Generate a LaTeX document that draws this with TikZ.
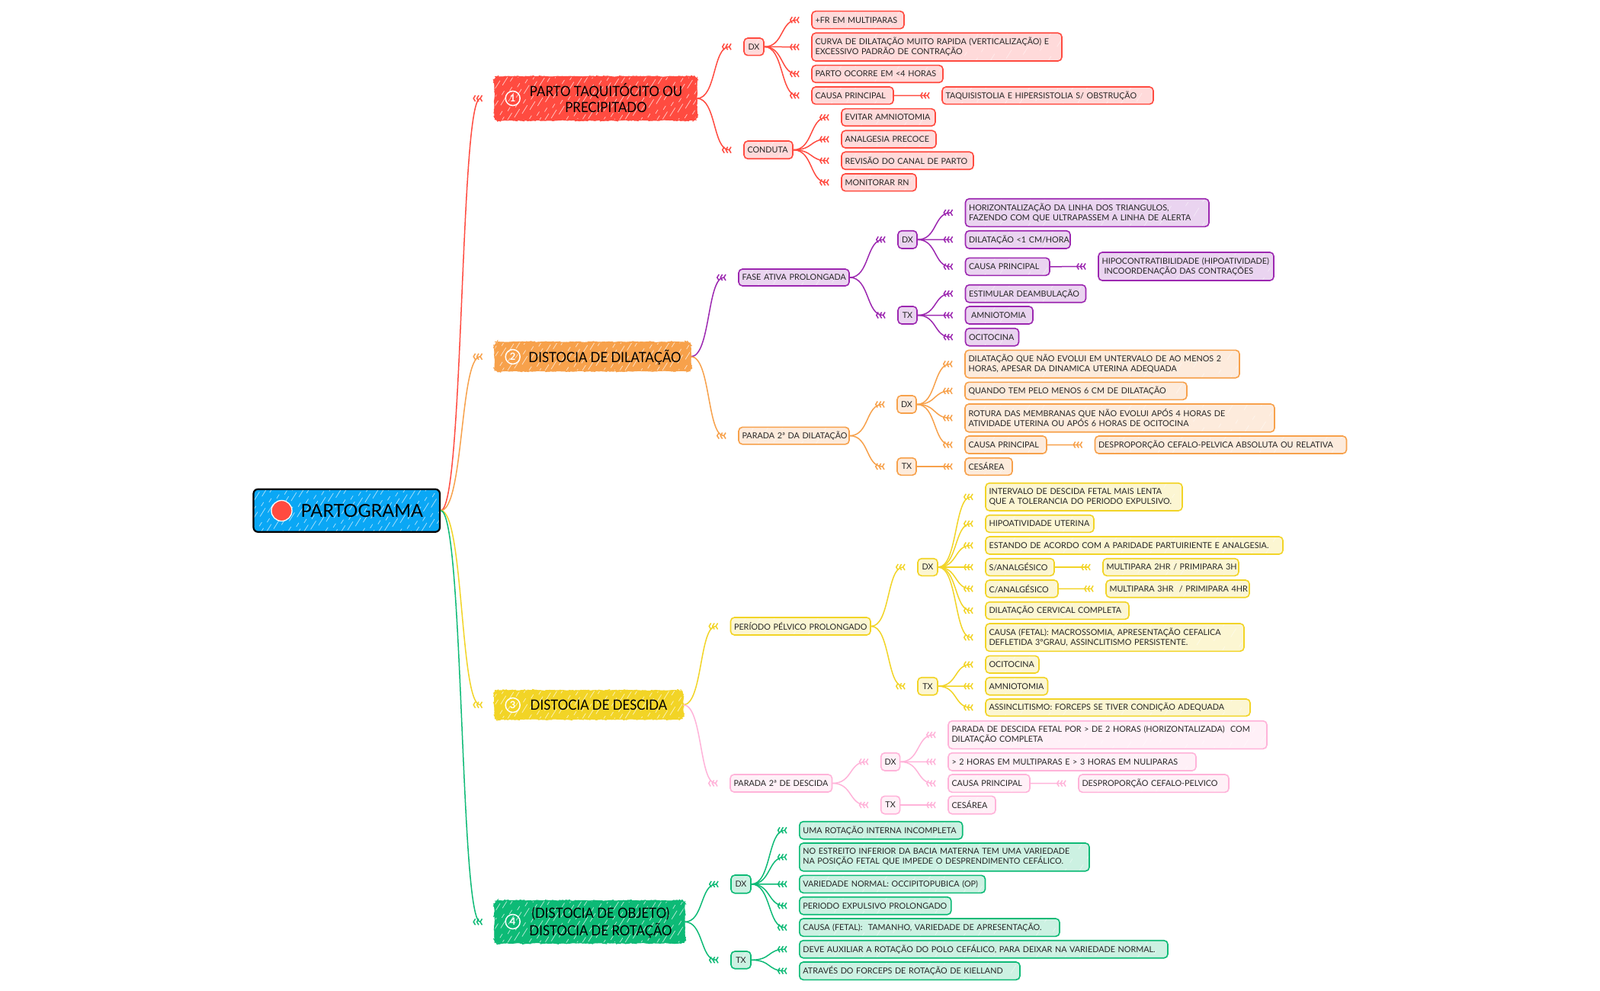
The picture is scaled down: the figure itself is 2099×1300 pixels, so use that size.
\documentclass[tikz,border=0pt]{standalone}
\usepackage{fontspec}
\setmainfont{Lato}
\newfontfamily\bigfont[FakeStretch=0.91]{Lato}
\usetikzlibrary{arrows.meta,calc,decorations.pathmorphing}
\definecolor{cred}{HTML}{FF4B40}\definecolor{credf}{HTML}{FFDADA}
\definecolor{cora}{HTML}{F7A14B}\definecolor{coraf}{HTML}{FDEBDC}
\definecolor{cyel}{HTML}{F2D426}\definecolor{cyelf}{HTML}{FCF6D2}
\definecolor{cgrn}{HTML}{0DBA76}\definecolor{cgrnf}{HTML}{CCF1E2}
\definecolor{cpur}{HTML}{9C27B0}\definecolor{cpurf}{HTML}{EAD4F0}
\definecolor{cpnk}{HTML}{FFB3D9}\definecolor{cpnkf}{HTML}{FFF0F7}
\definecolor{cblu}{HTML}{0AA7F5}
\tikzset{
 conn/.style={line width=1.5pt,shorten >=15pt,-{Straight Barb[reversed,length=2.4pt,width=8pt,sep=.4pt,line width=1.5pt]Straight Barb[reversed,length=2.4pt,width=8pt,sep=.4pt,line width=1.5pt]Straight Barb[reversed,length=2.4pt,width=8pt,sep=.4pt,line width=1.5pt]}},
 hatch/.style n args={2}{path picture={
   \pgfmathtruncatemacro\nh{(\bw+50)/#1}
   \foreach \k in {0,...,\nh}{
     \pgfmathsetmacro\ph{mod(\k*37,43)}
     \pgfmathsetmacro\sx{\k*#1-32}
     \draw[white,opacity=#2,line width=.7pt,dash pattern=on 13pt off 9pt on 6pt off 15pt,dash phase=\ph pt]
       ([xshift=\sx pt]path picture bounding box.south west) -- ++(40,-64);
   }}},
 small/.style={rectangle,rounded corners=5pt,line width=1.6pt,inner xsep=4.5pt,inner ysep=0pt,align=left,font=\fontsize{10.8}{13}\selectfont,text=black!85,hatch={19}{.5}},
 tiny/.style={small,align=center,inner xsep=0pt},
 rbox/.style={small,draw=cred,fill=credf},
 pbox/.style={small,draw=cpur,fill=cpurf},
 obox/.style={small,draw=cora,fill=coraf},
 ybox/.style={small,draw=cyel,fill=cyelf},
 kbox/.style={small,draw=cpnk,fill=cpnkf},
 gbox/.style={small,draw=cgrn,fill=cgrnf},
 big/.style={rectangle,rounded corners=6pt,inner sep=0pt,align=center,font=\bigfont\fontsize{18.5}{21}\selectfont,text=black,hatch={7}{.75},
   decorate,decoration={random steps,segment length=3pt,amplitude=.5pt},line width=.8pt},
 numc/.style={circle,draw=white,line width=1.5pt,text=white,minimum size=19pt,inner sep=0pt,font=\fontsize{13}{13}\selectfont\bfseries},
}
\newcommand\setg[4]{\pgfmathsetmacro\cx{(#1+#3)/2}\pgfmathsetmacro\cy{(#2+#4)/2}\pgfmathsetmacro\bw{#3-#1}\pgfmathsetmacro\bh{#4-#2}\pgfmathsetmacro\tw{\bw-9}}
\newcommand\bx[7]{\setg{#3}{#4}{#5}{#6}\node[#2,minimum width=\bw pt,minimum height=\bh pt,text width=\tw pt] (#1) at (\cx,\cy) {\mbox{#7}};}
\newcommand\bxx[8]{\setg{#3}{#4}{#5}{#6}\node[#2,minimum width=\bw pt,minimum height=\bh pt,text width=\tw pt] (#1) at (\cx,\cy) {\mbox{#7}\\\mbox{#8}};}
\newcommand\tx[7]{\setg{#3}{#4}{#5}{#6}\node[#2,tiny,minimum width=\bw pt,minimum height=\bh pt] (#1) at (\cx,\cy) {#7};}
\newcommand\mainbx[8]{\setg{#3}{#4}{#5}{#6}\node[big,draw=#2,fill=#2,minimum width=\bw pt,minimum height=\bh pt] (#1) at (\cx,\cy) {\hspace*{#7pt}\raisebox{0pt}[\dimexpr\height+5pt\relax][\depth]{\begin{tabular}{@{}c@{}}#8\end{tabular}}};}
\newcommand\conn[3]{\draw[conn,#1] (#2.east) .. controls ($(#2.east)!.55!([xshift=-15pt]#3.west |- #2.east)$) and ($([xshift=-15pt]#3.west)!.55!(#2.east |- #3.west)$) .. (#3.west);}
\begin{document}
\begin{tikzpicture}[x=1pt,y=-1pt]
\path[fill=white,use as bounding box] (0,0) rectangle (2099,1300);
% root
\setg{332.5}{641.7}{577}{697.8}
\node[rectangle,rounded corners=6pt,draw=black,fill=cblu,line width=2.2pt,inner sep=0pt,minimum width=\bw pt,minimum height=\bh pt,font=\fontsize{23.5}{25}\selectfont,hatch={7}{.7}] (root) at (\cx,\cy) {\hspace*{40pt}PARTOGRAMA};
\node[circle,fill=cred,draw=white,line width=1.3pt,minimum size=27pt,inner sep=0pt] (rootdot) at (369.5,670) {};
% main
\mainbx{m1}{cred}{649}{100.7}{914}{157.5}{27}{PARTO TAQUITÓCITO OU\\PRECIPITADO}
\mainbx{m2}{cora}{649}{449}{906}{486.6}{32}{DISTOCIA DE DILATAÇÃO}
\mainbx{m3}{cyel}{649}{906}{896}{943.3}{26}{DISTOCIA DE DESCIDA}
\mainbx{m4}{cgrn}{649}{1181.7}{898}{1237}{29}{(DISTOCIA DE OBJETO)\\DISTOCIA DE ROTAÇÃO}
\node[numc] (n1) at (672.7,129) {1};
\node[numc] (n2) at (672.7,468) {2};
\node[numc] (n3) at (672.7,925) {3};
\node[numc] (n4) at (672.7,1209) {4};
% red
\tx{rdx}{rbox}{976}{50}{1002}{72.7}{DX}
\bx{rcon}{rbox}{976}{185}{1040}{208.3}{CONDUTA}
\bx{r1}{rbox}{1065}{14.7}{1186}{37.7}{+FR EM MULTIPARAS}
\bxx{r2}{rbox}{1065}{43.3}{1393}{80}{CURVA DE DILATAÇÃO MUITO RAPIDA (VERTICALIZAÇÃO) E}{EXCESSIVO PADRÃO DE CONTRAÇÃO}
\bx{r3}{rbox}{1065}{85.7}{1237}{108.3}{PARTO OCORRE EM <4 HORAS}
\bx{r4}{rbox}{1065}{114}{1172}{136.7}{CAUSA PRINCIPAL}
\bx{r5}{rbox}{1236}{114}{1513}{136.7}{TAQUISISTOLIA E HIPERSISTOLIA S/ OBSTRUÇÃO}
\bx{r6}{rbox}{1104}{142.7}{1227}{165.3}{EVITAR AMNIOTOMIA}
\bx{r7}{rbox}{1104}{171.3}{1228}{194}{ANALGESIA PRECOCE}
\bx{r8}{rbox}{1104}{199.3}{1277}{222.3}{REVISÃO DO CANAL DE PARTO}
\bx{r9}{rbox}{1104}{228}{1202}{250.7}{MONITORAR RN}
% purple
\bx{pf}{pbox}{969}{353}{1114}{375}{FASE ATIVA PROLONGADA}
\tx{pdx}{pbox}{1178}{302.7}{1203}{326}{DX}
\tx{ptx}{pbox}{1178}{402}{1203}{425}{TX}
\bxx{p1}{pbox}{1266.5}{260.7}{1586}{297.3}{HORIZONTALIZAÇÃO DA LINHA DOS TRIANGULOS,}{FAZENDO COM QUE ULTRAPASSEM A LINHA DE ALERTA}
\bx{p2}{pbox}{1266.5}{302.7}{1404}{326}{DILATAÇÃO <1 CM/HORA}
\bx{p3}{pbox}{1266.5}{338.3}{1377}{361.3}{CAUSA PRINCIPAL}
\bxx{p4}{pbox}{1441}{331}{1671}{368}{HIPOCONTRATIBILIDADE (HIPOATIVIDADE)}{\hspace*{3pt}INCOORDENAÇÃO DAS CONTRAÇÕES}
\bx{p5}{pbox}{1266.5}{373.7}{1424.5}{396.7}{ESTIMULAR DEAMBULAÇÃO}
\bx{p6}{pbox}{1266.5}{402}{1355}{425}{\hspace*{3pt}AMNIOTOMIA}
\bx{p7}{pbox}{1266.5}{430.7}{1336.5}{453.7}{OCITOCINA}
% orange
\bx{of}{obox}{969}{560.4}{1114}{582.8}{PARADA 2ª DA DILATAÇÃO}
\tx{odx}{obox}{1177}{519}{1202}{542}{DX}
\tx{otx}{obox}{1177}{600.7}{1202}{623.3}{TX}
\bxx{o1}{obox}{1266}{459.3}{1626}{495.7}{DILATAÇÃO QUE NÃO EVOLUI EM UNTERVALO DE AO MENOS 2}{HORAS, APESAR DA DINAMICA UTERINA ADEQUADA}
\bx{o2}{obox}{1266}{501.3}{1557}{524.3}{QUANDO TEM PELO MENOS 6 CM DE DILATAÇÃO}
\bxx{o3}{obox}{1266}{530}{1672}{566.7}{ROTURA DAS MEMBRANAS QUE NÃO EVOLUI APÓS 4 HORAS DE}{ATIVIDADE UTERINA OU APÓS 6 HORAS DE OCITOCINA}
\bx{o4}{obox}{1266}{572}{1373}{595}{CAUSA PRINCIPAL}
\bx{o5}{obox}{1436.5}{572}{1766.5}{595}{DESPROPORÇÃO CEFALO-PELVICA ABSOLUTA OU RELATIVA}
\bx{o6}{obox}{1266}{600.7}{1328}{623.3}{CESÁREA}
% yellow
\bx{yf}{ybox}{958.5}{810}{1142}{833}{PERÍODO PÉLVICO PROLONGADO}
\tx{ydx}{ybox}{1204}{732.7}{1230}{755.3}{DX}
\tx{ytx}{ybox}{1204}{888.7}{1230}{911.7}{TX}
\bxx{y1}{ybox}{1293}{633.7}{1551}{670}{INTERVALO DE DESCIDA FETAL MAIS LENTA}{QUE A TOLERANCIA DO PERIODO EXPULSIVO.}
\bx{y2}{ybox}{1293}{675.7}{1435}{698.3}{HIPOATIVIDADE UTERINA}
\bx{y3}{ybox}{1293}{704}{1683}{727}{ESTANDO DE ACORDO COM A PARIDADE PARTUIRIENTE E ANALGESIA.}
\bx{y4}{ybox}{1293}{732.7}{1383}{755.3}{S/ANALGÉSICO}
\bx{y5}{ybox}{1447}{732.7}{1625}{755.3}{MULTIPARA 2HR / PRIMIPARA 3H}
\bx{y6}{ybox}{1293}{761}{1388}{783.7}{C/ANALGÉSICO}
\bx{y7}{ybox}{1451}{761}{1639}{783.7}{MULTIPARA 3HR \ / PRIMIPARA 4HR}
\bx{y8}{ybox}{1293}{789.7}{1481}{812.3}{DILATAÇÃO CERVICAL COMPLETA}
\bxx{y9}{ybox}{1293}{818}{1632}{854.3}{CAUSA (FETAL): MACROSSOMIA, APRESENTAÇÃO CEFALICA}{DEFLETIDA 3ºGRAU, ASSINCLITISMO PERSISTENTE.}
\bx{y10}{ybox}{1293}{860.3}{1363}{883}{OCITOCINA}
\bx{y11}{ybox}{1293}{888.7}{1374.5}{911.7}{AMNIOTOMIA}
\bx{y12}{ybox}{1293}{917}{1640}{939.3}{ASSINCLITISMO: FORCEPS SE TIVER CONDIÇÃO ADEQUADA}
% pink
\bx{kf}{kbox}{958}{1016}{1091.5}{1039}{PARADA 2ª DE DESCIDA}
\tx{kdx}{kbox}{1155.7}{987.7}{1180.6}{1011}{DX}
\tx{ktx}{kbox}{1155.7}{1044.3}{1180.6}{1067.7}{TX}
\bxx{k1}{kbox}{1244}{945.7}{1662}{982.3}{PARADA DE DESCIDA FETAL POR > DE 2 HORAS (HORIZONTALIZADA) \ COM}{DILATAÇÃO COMPLETA}
\bx{k2}{kbox}{1244}{987.7}{1569}{1011}{> 2 HORAS EM MULTIPARAS E > 3 HORAS EM NULIPARAS}
\bx{k3}{kbox}{1244}{1016}{1351}{1039.3}{CAUSA PRINCIPAL}
\bx{k4}{kbox}{1415}{1016}{1612}{1039.3}{DESPROPORÇÃO CEFALO-PELVICO}
\bx{k5}{kbox}{1244}{1044.3}{1306}{1067.7}{CESÁREA}
% green
\tx{gdx}{gbox}{959}{1148}{985}{1171.7}{DX}
\tx{gtx}{gbox}{959}{1248}{985}{1270.7}{TX}
\bx{g1}{gbox}{1048.8}{1077.7}{1262.7}{1100.7}{UMA ROTAÇÃO INTERNA INCOMPLETA}
\bxx{g2}{gbox}{1048.8}{1106}{1429}{1142.7}{NO ESTREITO INFERIOR DA BACIA MATERNA TEM UMA VARIEDADE}{NA POSIÇÃO FETAL QUE IMPEDE O DESPRENDIMENTO CEFÁLICO.}
\bx{g3}{gbox}{1048.8}{1148.3}{1292.5}{1171.3}{VARIEDADE NORMAL: OCCIPITOPUBICA (OP)}
\bx{g4}{gbox}{1048.8}{1176.7}{1247.8}{1199.7}{PERIODO EXPULSIVO PROLONGADO}
\bx{g5}{gbox}{1048.8}{1205}{1390}{1228.3}{CAUSA (FETAL): \ TAMANHO, VARIEDADE DE APRESENTAÇÃO.}
\bx{g6}{gbox}{1048.8}{1233.7}{1532}{1256.7}{DEVE AUXILIAR A ROTAÇÃO DO POLO CEFÁLICO, PARA DEIXAR NA VARIEDADE NORMAL.}
\bx{g7}{gbox}{1048.8}{1262}{1338}{1285.3}{ATRAVÉS DO FORCEPS DE ROTAÇÃO DE KIELLAND}
% connectors
\conn{cred}{root}{m1}\conn{cora}{root}{m2}\conn{cyel}{root}{m3}\conn{cgrn}{root}{m4}
\conn{cred}{m1}{rdx}\conn{cred}{m1}{rcon}
\foreach \c in {r1,r2,r3,r4}{\conn{cred}{rdx}{\c}}
\conn{cred}{r4}{r5}
\foreach \c in {r6,r7,r8,r9}{\conn{cred}{rcon}{\c}}
\conn{cpur}{m2}{pf}\conn{cora}{m2}{of}
\conn{cpur}{pf}{pdx}\conn{cpur}{pf}{ptx}
\foreach \c in {p1,p2,p3}{\conn{cpur}{pdx}{\c}}
\conn{cpur}{p3}{p4}
\foreach \c in {p5,p6,p7}{\conn{cpur}{ptx}{\c}}
\conn{cora}{of}{odx}\conn{cora}{of}{otx}
\foreach \c in {o1,o2,o3,o4}{\conn{cora}{odx}{\c}}
\conn{cora}{o4}{o5}\conn{cora}{otx}{o6}
\conn{cyel}{m3}{yf}\conn{cpnk}{m3}{kf}
\conn{cyel}{yf}{ydx}\conn{cyel}{yf}{ytx}
\foreach \c in {y1,y2,y3,y4,y6,y8,y9}{\conn{cyel}{ydx}{\c}}
\conn{cyel}{y4}{y5}\conn{cyel}{y6}{y7}
\foreach \c in {y10,y11,y12}{\conn{cyel}{ytx}{\c}}
\conn{cpnk}{kf}{kdx}\conn{cpnk}{kf}{ktx}
\foreach \c in {k1,k2,k3}{\conn{cpnk}{kdx}{\c}}
\conn{cpnk}{k3}{k4}\conn{cpnk}{ktx}{k5}
\conn{cgrn}{m4}{gdx}\conn{cgrn}{m4}{gtx}
\foreach \c in {g1,g2,g3,g4,g5}{\conn{cgrn}{gdx}{\c}}
\foreach \c in {g6,g7}{\conn{cgrn}{gtx}{\c}}
\end{tikzpicture}
\end{document}
